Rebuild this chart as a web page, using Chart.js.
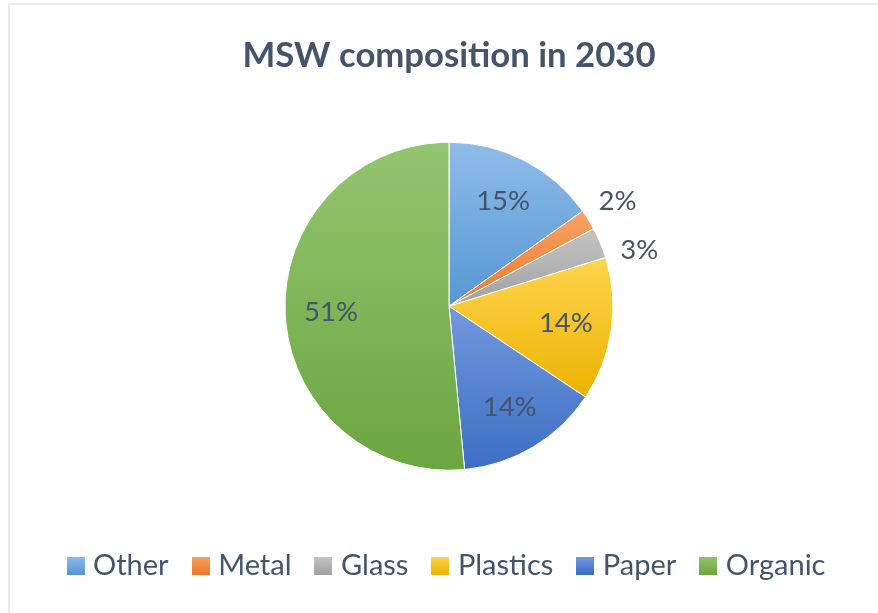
<!DOCTYPE html>
<html>
<head>
<meta charset="utf-8">
<title>MSW composition in 2030</title>
<script src="https://cdn.jsdelivr.net/npm/chart.js@4"></script>
<style>
  html, body { margin: 0; padding: 0; background: #fff; }
  #wrap { position: relative; width: 878px; height: 613px; overflow: hidden; }
  #frame {
    position: absolute; left: 8px; top: 3px; width: 900px; height: 640px;
    border-left: 2px solid #e7eaee; border-top: 2px solid #e7eaee;
    box-sizing: border-box; pointer-events: none;
  }
</style>
</head>
<body>
<div id="wrap">
  <canvas id="pieChart"></canvas>
  <div id="frame"></div>
</div>
<script>
const categories = ["Other", "Metal", "Glass", "Plastics", "Paper", "Organic"];
const shares = [15, 2, 3, 14, 14, 51];

// light (top) and dark (bottom) stop of each slice's fill
const lightColors = ["#8fbce7", "#f7a266", "#c4c4c4", "#ffd550", "#7299dc", "#94c572"];
const darkColors  = ["#5597d4", "#ec7a27", "#a0a0a0", "#ebb300", "#3c6ec4", "#6ba63f"];

const TEXT = "#44546A";
const FONT = "Lato, 'Open Sans', sans-serif";
const PIE_R = 164;

const total = shares.reduce((a, b) => a + b, 0);

// vertical extent of a slice, so each one gets its own top-to-bottom gradient
function sliceSpan(i, cy, r) {
  let cum = 0;
  for (let k = 0; k < i; k++) cum += shares[k];
  const a0 = -Math.PI / 2 + 2 * Math.PI * cum / total;
  const a1 = a0 + 2 * Math.PI * shares[i] / total;
  const ys = [cy, cy + r * Math.sin(a0), cy + r * Math.sin(a1)];
  for (const q of [-Math.PI / 2, Math.PI / 2, 3 * Math.PI / 2]) {
    if (q > a0 && q < a1) ys.push(cy + r * Math.sin(q));
  }
  return [Math.min(...ys), Math.max(...ys)];
}

function sliceFill(ctx) {
  const chart = ctx.chart;
  const area = chart.chartArea;
  const i = ctx.dataIndex;
  if (!area || i === undefined) return darkColors[i] || "#999";
  const cy = (area.top + area.bottom) / 2;
  const [y0, y1] = sliceSpan(i, cy, PIE_R);
  const g = chart.ctx.createLinearGradient(0, y0, 0, y1);
  g.addColorStop(0, lightColors[i]);
  g.addColorStop(1, darkColors[i]);
  return g;
}

// small gradient squares used as legend markers
function legendSwatch(i) {
  const c = document.createElement("canvas");
  c.width = 18; c.height = 18;
  const x = c.getContext("2d");
  const g = x.createLinearGradient(0, 0, 0, 18);
  g.addColorStop(0, lightColors[i]);
  g.addColorStop(1, darkColors[i]);
  x.fillStyle = g;
  x.fillRect(0, 0, 18, 18);
  return c;
}
const swatches = categories.map((_, i) => legendSwatch(i));

// percentage labels: big slices inside, thin ones outside the rim
const sliceLabels = {
  id: "sliceLabels",
  afterDatasetsDraw(chart) {
    const { ctx } = chart;
    const meta = chart.getDatasetMeta(0);
    ctx.save();
    ctx.font = "27.5px " + FONT;
    ctx.fillStyle = TEXT;
    ctx.textAlign = "center";
    ctx.textBaseline = "middle";
    let lastOutside = null;
    meta.data.forEach((arc, i) => {
      const { x, y, startAngle, endAngle, outerRadius } = arc.getProps(
        ["x", "y", "startAngle", "endAngle", "outerRadius"], true);
      const text = shares[i] + "%";
      let mid = (startAngle + endAngle) / 2;
      if (shares[i] / total >= 0.05) {
        const r = outerRadius * 0.72;
        ctx.fillText(text, x + r * Math.cos(mid), y + r * Math.sin(mid));
        return;
      }
      const r = outerRadius * 1.21;
      let ly = y + r * Math.sin(mid);
      // slide down the outer circle until it clears the previous outside label
      while (lastOutside !== null && ly - lastOutside < 47 && mid < Math.PI / 2) {
        mid += 0.01;
        ly = y + r * Math.sin(mid);
      }
      ctx.fillText(text, x + r * Math.cos(mid), ly);
      lastOutside = ly;
    });
    ctx.restore();
  }
};

new Chart(document.getElementById("pieChart"), {
  type: "pie",
  data: {
    labels: categories,
    datasets: [{
      data: shares,
      backgroundColor: sliceFill,
      borderColor: "#ffffff",
      borderWidth: 1,
      radius: PIE_R
    }]
  },
  options: {
    responsive: true,
    maintainAspectRatio: false,
    animation: false,
    layout: { padding: { left: 20, right: 0, top: 0, bottom: 23 } },
    plugins: {
      title: {
        display: true,
        text: "MSW composition in 2030",
        color: TEXT,
        font: { family: FONT, size: 34.7, weight: "bold", lineHeight: 1.2 },
        padding: { top: 35.2, bottom: 13.6 }
      },
      legend: {
        position: "bottom",
        labels: {
          usePointStyle: true,
          boxWidth: 6,
          padding: 29,
          color: TEXT,
          font: { family: FONT, size: 29 },
          generateLabels(chart) {
            return categories.map((text, i) => ({
              text,
              fillStyle: darkColors[i],
              strokeStyle: darkColors[i],
              lineWidth: 0,
              pointStyle: swatches[i],
              fontColor: TEXT,
              hidden: false,
              index: i
            }));
          }
        }
      },
      tooltip: { enabled: false }
    }
  },
  plugins: [sliceLabels]
});
</script>
</body>
</html>
